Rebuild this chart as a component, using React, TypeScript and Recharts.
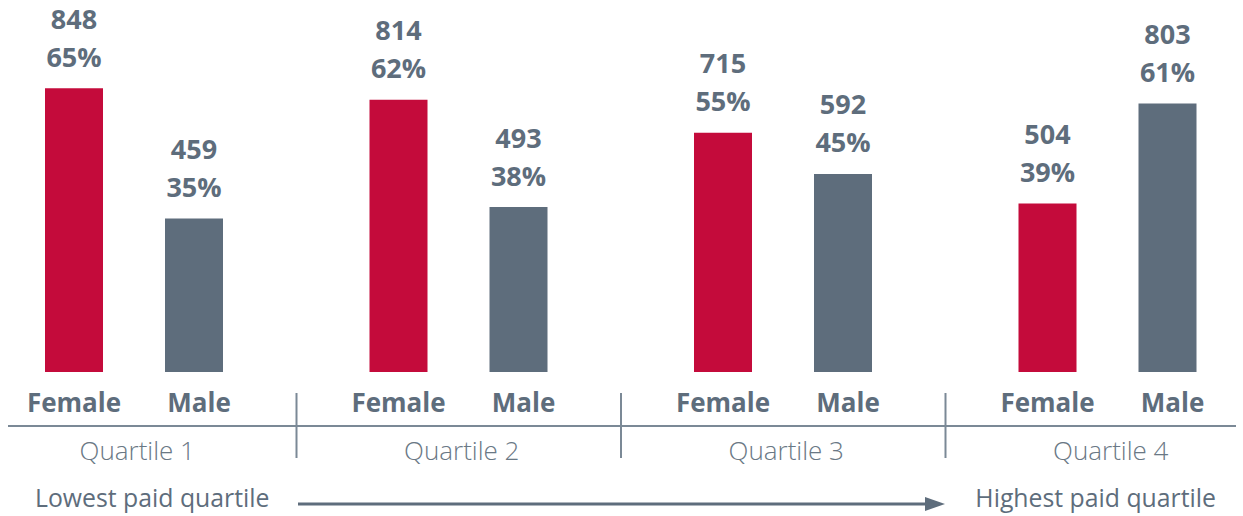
import React from 'react';
import { BarChart, Bar, XAxis, YAxis, LabelList } from 'recharts';

const quartiles = ['Quartile 1', 'Quartile 2', 'Quartile 3', 'Quartile 4'];
const femaleCounts = [848, 814, 715, 504];
const maleCounts = [459, 493, 592, 803];
const femalePct = [65, 62, 55, 39];
const malePct = [35, 38, 45, 61];

const RED = '#C40B3B';
const SLATE = '#5E6D7C';
const TEXT = '#5E6D7C';
const LIGHT = '#7B8996';
const QTEXT = '#6A7885';
const FONT = '"Open Sans", "Noto Sans", sans-serif';

const W = 1243;
const H = 516;
const MARGIN = { top: 37.5, right: -27, bottom: 10, left: -28 };
const BAND = (W - MARGIN.left - MARGIN.right) / quartiles.length;

const data = quartiles.map((q, i) => ({
  quartile: q,
  female: femaleCounts[i],
  male: maleCounts[i],
  femalePct: femalePct[i],
  malePct: malePct[i],
}));

// count line sits above the percentage line
const countLabel = (props: any) => {
  const { x, y, width, value } = props;
  return (
    <text x={x + width / 2} y={y - 59.5} textAnchor="middle" fill={TEXT}
      fontFamily={FONT} fontWeight={700} fontSize={27}>
      {value}
    </text>
  );
};

const pctLabel = (props: any) => {
  const { x, y, width, value } = props;
  return (
    <text x={x + width / 2} y={y - 21.5} textAnchor="middle" fill={TEXT}
      fontFamily={FONT} fontWeight={700} fontSize={27}>
      {`${value}%`}
    </text>
  );
};

const nameLabel = (name: string, dx: number) => (props: any) => {
  const { x, y, width, height } = props;
  return (
    <text x={x + width / 2 + dx} y={y + height + 39.5} textAnchor="middle" fill={TEXT}
      fontFamily={FONT} fontWeight={700} fontSize={26}>
      {name}
    </text>
  );
};

const QuartileTick = (props: any) => {
  const { x, y, payload, index } = props;
  return (
    <g>
      <text x={x + 3} y={y + 80} textAnchor="middle" fill={QTEXT}
        fontFamily={FONT} fontWeight={300} fontSize={26}>
        {payload.value}
      </text>
      {index < quartiles.length - 1 && (
        <line x1={x + BAND / 2} x2={x + BAND / 2} y1={393} y2={458}
          stroke={LIGHT} strokeWidth={2} />
      )}
    </g>
  );
};

export default function App() {
  return (
    <div style={{ position: 'absolute', left: 0, top: 0, width: W, height: H, overflow: 'hidden', background: '#fff' }}>
      <BarChart width={W} height={H} data={data} margin={MARGIN} barSize={58} barGap={62}>
        <XAxis dataKey="quartile" axisLine={false} tickLine={false} height={134}
          interval={0} tick={QuartileTick} />
        <YAxis hide domain={[0, 1000]} />
        <Bar dataKey="female" fill={RED} isAnimationActive={false}>
          <LabelList dataKey="female" content={countLabel} />
          <LabelList dataKey="femalePct" content={pctLabel} />
          <LabelList dataKey="female" content={nameLabel('Female', 0)} />
        </Bar>
        <Bar dataKey="male" fill={SLATE} isAnimationActive={false}>
          <LabelList dataKey="male" content={countLabel} />
          <LabelList dataKey="malePct" content={pctLabel} />
          <LabelList dataKey="male" content={nameLabel('Male', 5)} />
        </Bar>
        <line x1={8} x2={1236} y1={426} y2={426} stroke={LIGHT} strokeWidth={2} />
        <text x={35} y={506.5} fill={TEXT} fontFamily={FONT} fontSize={24.8}>Lowest paid quartile</text>
        <text x={1216} y={506.5} textAnchor="end" fill={TEXT} fontFamily={FONT} fontSize={24.8}>Highest paid quartile</text>
        <line x1={298} x2={930} y1={504} y2={504} stroke={SLATE} strokeWidth={3} />
        <polygon points="925,497 945,504 925,511" fill={SLATE} />
      </BarChart>
    </div>
  );
}
